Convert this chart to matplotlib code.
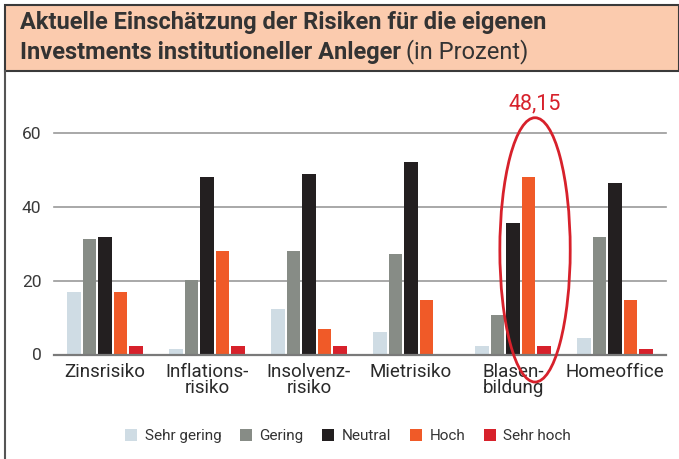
import matplotlib.pyplot as plt
from matplotlib.patches import Rectangle, Ellipse
from matplotlib.lines import Line2D
import numpy as np

plt.rcParams['font.family'] = ['Roboto', 'DejaVu Sans']

categories = ['Zinsrisiko', 'Inflations-\nrisiko', 'Insolvenz-\nrisiko',
              'Mietrisiko', 'Blasen-\nbildung', 'Homeoffice']
series = ['Sehr gering', 'Gering', 'Neutral', 'Hoch', 'Sehr hoch']
sehr_gering = [17.0, 1.4, 12.3, 6.0, 2.2, 4.4]
gering = [31.2, 20.1, 28.0, 27.2, 10.7, 31.8]
neutral = [31.9, 48.0, 48.9, 52.1, 35.6, 46.4]
hoch = [17.0, 28.0, 6.9, 14.7, 48.15, 14.7]
sehr_hoch = [2.2, 2.2, 2.2, 0.0, 2.2, 1.4]
colors = ['#CFDCE4', '#878C86', '#231F20', '#F05A28', '#D7212B']

W, H = 679, 459
fig = plt.figure(figsize=(W / 100, H / 100), dpi=100)

# title box
fig.patches.append(Rectangle((5 / W, (H - 71) / H), 1 - 5 / W, 66 / H,
                             transform=fig.transFigure, facecolor='#FBCBAE',
                             edgecolor='#3a3a3a', lw=1.5))
fig.lines.append(Line2D([5 / W, 5 / W], [0, (H - 71) / H],
                        transform=fig.transFigure, color='#555555', lw=1.5))
fig.text(20 / W, (H - 23) / H, 'Aktuelle Einschätzung der Risiken für die eigenen',
         fontsize=17, fontweight='semibold', color='#333333', va='center')
t = fig.text(20 / W, (H - 52) / H, 'Investments institutioneller Anleger',
             fontsize=17, fontweight='semibold', color='#333333', va='center')
fig.canvas.draw()
bb = t.get_window_extent()
fig.text(bb.x1 / W + 5 / W, (H - 52) / H, '(in Prozent)',
         fontsize=17, color='#333333', va='center')

ax = fig.add_axes([54 / W, (H - 354.5) / H, 612 / W, 221.8 / H])
x = np.arange(len(categories))
pitch = 0.152
width = 0.128
data = [sehr_gering, gering, neutral, hoch, sehr_hoch]
for i, (vals, c, name) in enumerate(zip(data, colors, series)):
    ax.bar(x + (i - 2) * pitch, vals, width, color=c, label=name, zorder=3)

ax.set_xlim(-0.5, 5.5)
ax.set_ylim(0, 60)
ax.set_yticks([0, 20, 40, 60])
for yv in [20, 40, 60]:
    ax.axhline(yv, color='#9a9a9a', lw=1.2, zorder=1, clip_on=False)
ax.axhline(0, color='#7a7a7a', lw=1.6, zorder=4, clip_on=False)
for s in ax.spines.values():
    s.set_visible(False)
ax.tick_params(axis='y', length=0, labelsize=12.5, labelcolor='#3a3a3a', pad=9)
ax.set_xticks(x)
ax.set_xticklabels(categories, fontsize=13.5, color='#2a2a2a', linespacing=0.9,
                   va='top')
ax.tick_params(axis='x', length=0, pad=6)

# highlight
ax.add_patch(Ellipse((4.216, 28.3), 0.69, 71.5, fill=False, edgecolor='#D7212B',
                     lw=2, clip_on=False, zorder=5))
ax.text(4.216, 67.8, f'{hoch[4]:.2f}'.replace('.', ','), color='#D7212B',
        fontsize=15.5, ha='center', va='center', clip_on=False)

leg = fig.legend(loc='center', bbox_to_anchor=(348 / W, (H - 436) / H), ncol=5,
                 frameon=False, fontsize=11, handlelength=0.8, handleheight=0.8,
                 handletextpad=0.5, columnspacing=1.2)
for txt in leg.get_texts():
    txt.set_color('#333333')

fig.savefig('out.png', dpi=100)
